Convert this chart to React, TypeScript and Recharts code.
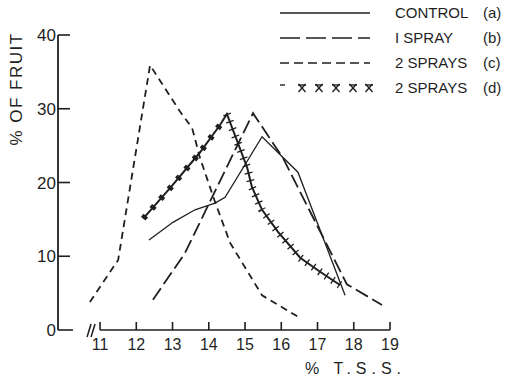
import { LineChart, Line, XAxis, YAxis, ReferenceLine } from "recharts"

const INK = "#1f1f1f"
const FONT = "'Liberation Sans', Arial, sans-serif"

// % T.S.S. axis / % of fruit axis
const xTicks = [11, 12, 13, 14, 15, 16, 17, 18, 19]
const yTicks = [0, 10, 20, 30, 40]

// (x = % T.S.S., y = % of fruit)
const controlA = [
  { x: 12.35, y: 12.2 },
  { x: 13.01, y: 14.6 },
  { x: 13.62, y: 16.3 },
  { x: 14.17, y: 17.2 },
  { x: 14.45, y: 18.0 },
  { x: 15.47, y: 26.2 },
  { x: 16.46, y: 21.4 },
  { x: 17.76, y: 4.7 },
]

const oneSprayB = [
  { x: 12.46, y: 4.1 },
  { x: 13.34, y: 10.4 },
  { x: 15.22, y: 29.4 },
  { x: 16.05, y: 23.3 },
  { x: 17.81, y: 6.2 },
  { x: 18.78, y: 3.4 },
]

const twoSpraysC = [
  { x: 10.72, y: 3.8 },
  { x: 11.5, y: 9.5 },
  { x: 12.38, y: 35.9 },
  { x: 13.21, y: 29.6 },
  { x: 13.54, y: 27.4 },
  { x: 13.76, y: 23.3 },
  { x: 14.17, y: 17.4 },
  { x: 14.59, y: 11.8 },
  { x: 15.47, y: 4.7 },
  { x: 16.46, y: 1.8 },
]

const twoSpraysD = [
  { x: 12.19, y: 15.1 },
  { x: 12.96, y: 19.4 },
  { x: 13.76, y: 24.1 },
  { x: 14.31, y: 27.8 },
  { x: 14.5, y: 29.3 },
  { x: 15.06, y: 22.0 },
  { x: 15.19, y: 19.4 },
  { x: 15.47, y: 16.3 },
  { x: 15.91, y: 13.3 },
  { x: 16.52, y: 9.8 },
  { x: 17.07, y: 7.9 },
  { x: 17.62, y: 6.1 },
]

const legendRows = [
  { label: "CONTROL", tag: "(a)", dash: "" },
  { label: "I SPRAY", tag: "(b)", dash: "20 6" },
  { label: "2 SPRAYS", tag: "(c)", dash: "9 5" },
  { label: "2 SPRAYS", tag: "(d)", dash: "stars" },
]

// rising part has solid blobs, falling part has cross ticks
const dRise = twoSpraysD.filter((p) => p.x <= 14.35)
const dFall = twoSpraysD.filter((p) => p.x >= 14.45)

function XTick({ x, y, payload }: any) {
  const v = payload.value
  return (
    <g>
      <line x1={x} y1={y} x2={x} y2={y - 8} stroke={INK} strokeWidth={1.6} />
      <text x={x} y={y + 20} textAnchor="middle" fontSize={16} fill={INK} fontFamily={FONT}>
        {v}
      </text>
      {v === 11 && (
        <g stroke={INK} strokeWidth={1.5}>
          <line x1={x - 13} y1={y + 7} x2={x - 9} y2={y - 6} />
          <line x1={x - 9} y1={y + 7} x2={x - 5} y2={y - 6} />
        </g>
      )}
    </g>
  )
}

function YTick({ x, y, payload }: any) {
  const v = payload.value
  return (
    <g>
      <line x1={x} y1={y} x2={x + (v === 0 ? 15 : 12)} y2={y} stroke={INK} strokeWidth={1.6} />
      <text x={x - 2} y={y + 6} textAnchor="end" fontSize={17} fill={INK} fontFamily={FONT}>
        {v}
      </text>
    </g>
  )
}

function Star({ cx, cy }: { cx: number; cy: number }) {
  return (
    <g stroke={INK} strokeWidth={1.4}>
      <line x1={cx - 3.5} y1={cy - 4} x2={cx + 3.5} y2={cy + 4} />
      <line x1={cx + 3.5} y1={cy - 4} x2={cx - 3.5} y2={cy + 4} />
      <line x1={cx - 4} y1={cy - 3} x2={cx + 4} y2={cy - 3} />
    </g>
  )
}

function Overlay() {
  return (
    <svg
      width={507}
      height={379}
      style={{ position: "absolute", left: 0, top: 0, pointerEvents: "none" }}
      fontFamily={FONT}
      fill={INK}
    >
      {legendRows.map((r, i) => {
        const cy = 13 + i * 25
        return (
          <g key={i}>
            {r.dash === "stars" ? (
              <g>
                <line x1={280} y1={cy - 3} x2={285} y2={cy - 3} stroke={INK} strokeWidth={1.4} />
                {[302, 319, 336, 353, 369].map((sx) => (
                  <Star key={sx} cx={sx} cy={cy} />
                ))}
              </g>
            ) : (
              <line
                x1={280}
                y1={cy}
                x2={370}
                y2={cy}
                stroke={INK}
                strokeWidth={1.6}
                strokeDasharray={r.dash || undefined}
              />
            )}
            <text x={395} y={cy + 5} fontSize={15}>
              {r.label}
            </text>
            <text x={483} y={cy + 5} fontSize={15}>
              {r.tag}
            </text>
          </g>
        )
      })}
      <text
        x={22}
        y={89}
        fontSize={17}
        letterSpacing={1.5}
        textAnchor="middle"
        transform="rotate(-90 22 89)"
      >
        % OF FRUIT
      </text>
      <text x={305} y={374} fontSize={16} letterSpacing={5}>
        % T.S.S.
      </text>
    </svg>
  )
}

export default function App() {
  return (
    <div style={{ position: "absolute", left: 0, top: 0, width: 507, height: 379, background: "#fff" }}>
      <LineChart width={507} height={379} margin={{ top: 35, right: 117, bottom: 19, left: 0 }}>
        <XAxis
          type="number"
          dataKey="x"
          domain={[9.84, 19]}
          ticks={xTicks}
          allowDataOverflow
          axisLine={false}
          tickLine={false}
          tickSize={0}
          tickMargin={0}
          height={30}
          tick={<XTick />}
          interval={0}
        />
        <YAxis
          type="number"
          dataKey="y"
          domain={[0, 40]}
          ticks={yTicks}
          allowDataOverflow
          width={58}
          axisLine={{ stroke: INK, strokeWidth: 1.8 }}
          tickLine={false}
          tickSize={0}
          tickMargin={0}
          tick={<YTick />}
          interval={0}
        />
        <ReferenceLine
          segment={[
            { x: 11, y: 0 },
            { x: 19, y: 0 },
          ]}
          stroke={INK}
          strokeWidth={1.6}
        />
        <Line data={controlA} dataKey="y" type="linear" stroke={INK} strokeWidth={1.3} dot={false} isAnimationActive={false} />
        <Line
          data={oneSprayB}
          dataKey="y"
          type="linear"
          stroke={INK}
          strokeWidth={1.8}
          strokeDasharray="14 5"
          dot={false}
          isAnimationActive={false}
        />
        <Line
          data={twoSpraysC}
          dataKey="y"
          type="linear"
          stroke={INK}
          strokeWidth={1.8}
          strokeDasharray="7 5"
          dot={false}
          isAnimationActive={false}
        />
        <Line data={twoSpraysD} dataKey="y" type="linear" stroke={INK} strokeWidth={2} dot={false} isAnimationActive={false} />
        <Line
          data={dRise}
          dataKey="y"
          type="linear"
          stroke={INK}
          strokeWidth={6}
          strokeDasharray="4 9"
          dot={false}
          isAnimationActive={false}
        />
        <Line
          data={dFall}
          dataKey="y"
          type="linear"
          stroke={INK}
          strokeWidth={8}
          strokeDasharray="1.3 6.5"
          dot={false}
          isAnimationActive={false}
        />
      </LineChart>
      <Overlay />
    </div>
  )
}
